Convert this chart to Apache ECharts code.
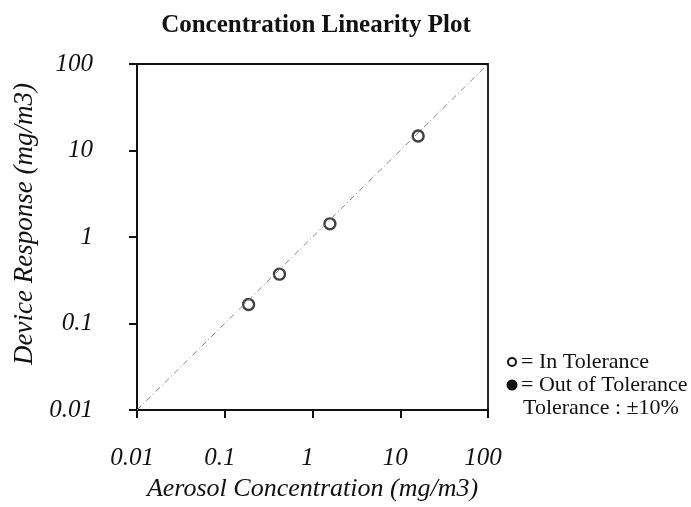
<!DOCTYPE html>
<html>
<head>
<meta charset="utf-8">
<script src="https://cdn.jsdelivr.net/npm/echarts@6/dist/echarts.min.js"></script>
<style>html,body{margin:0;padding:0;background:#fff}#c{width:691px;height:507px}</style>
</head>
<body>
<div id="c"></div>
<script>
// Data
const aerosolConc = [0.187, 0.42, 1.58, 16.0];      // x: Aerosol Concentration (mg/m3)
const deviceResp  = [0.166, 0.372, 1.42, 14.7];     // y: Device Response (mg/m3)
const identityX = [0.01, 100];
const identityY = [0.01, 100];
const tickLabels = ['0.01', '0.1', '1', '10', '100'];
const legendLines = ['= In Tolerance', '= Out of Tolerance', 'Tolerance : \u00B110%'];

const FONT = '"Liberation Serif", "DejaVu Serif", serif';
const chart = echarts.init(document.getElementById('c'), null, {renderer: 'canvas'});

const fmt = v => {
  const idx = Math.round(Math.log10(v)) + 2;
  return tickLabels[idx] !== undefined ? tickLabels[idx] : '';
};

chart.setOption({
  animation: false,
  backgroundColor: '#fff',
  title: {
    text: 'Concentration Linearity Plot',
    left: 311, top: 8, textAlign: 'center',
    textStyle: {fontFamily: FONT, fontWeight: 'bold', fontSize: 25, color: '#111'}
  },
  grid: {
    left: 137, right: 203, top: 64, bottom: 95,
    show: true, borderColor: '#111', borderWidth: 1.8, backgroundColor: 'transparent'
  },
  xAxis: {
    type: 'log', logBase: 10, min: 0.01, max: 100,
    name: 'Aerosol Concentration (mg/m3)', nameLocation: 'middle', nameGap: 66,
    nameTextStyle: {fontFamily: FONT, fontStyle: 'italic', fontSize: 26, color: '#111'},
    axisLine: {lineStyle: {color: '#111', width: 2}},
    axisTick: {show: true, length: 8, lineStyle: {color: '#111', width: 2}},
    axisLabel: {fontFamily: FONT, fontStyle: 'italic', fontSize: 25, color: '#111', margin: 36,
      padding: [0, 10, 0, 0], formatter: fmt},
    splitLine: {show: false}, minorTick: {show: false}
  },
  yAxis: {
    type: 'log', logBase: 10, min: 0.01, max: 100,
    name: 'Device Response (mg/m3)', nameLocation: 'middle', nameGap: 96,
    nameTextStyle: {fontFamily: FONT, fontStyle: 'italic', fontSize: 27, color: '#111', padding: [0, 0, 0, 26]},
    axisLine: {lineStyle: {color: '#111', width: 2}},
    axisTick: {show: true, length: 8, lineStyle: {color: '#111', width: 2}},
    axisLabel: {fontFamily: FONT, fontStyle: 'italic', fontSize: 25, color: '#111', margin: 44, formatter: fmt},
    splitLine: {show: false}, minorTick: {show: false}
  },
  graphic: [
    {type: 'circle', shape: {cx: 512, cy: 362, r: 4}, style: {fill: '#fff', stroke: '#111', lineWidth: 2}},
    {type: 'circle', shape: {cx: 512, cy: 385, r: 5.5}, style: {fill: '#111', stroke: '#111', lineWidth: 0}},
    {type: 'text', left: 521, top: 351, style: {text: legendLines[0], fontFamily: FONT, fontSize: 22, fill: '#111'}},
    {type: 'text', left: 521, top: 374, style: {text: legendLines[1], fontFamily: FONT, fontSize: 22, fill: '#111'}},
    {type: 'text', left: 523, top: 397, style: {text: legendLines[2], fontFamily: FONT, fontSize: 22, fill: '#111'}}
  ],
  series: [
    {
      type: 'line', data: identityX.map((x, i) => [x, identityY[i]]),
      symbol: 'none', silent: true,
      lineStyle: {color: '#888', width: 1, type: [6, 3, 1, 3]}
    },
    {
      type: 'scatter', name: 'In Tolerance',
      data: aerosolConc.map((x, i) => [x, deviceResp[i]]),
      symbol: 'circle', symbolSize: 11,
      itemStyle: {color: '#fff', borderColor: '#111', borderWidth: 2.4}
    }
  ]
});
</script>
</body>
</html>
